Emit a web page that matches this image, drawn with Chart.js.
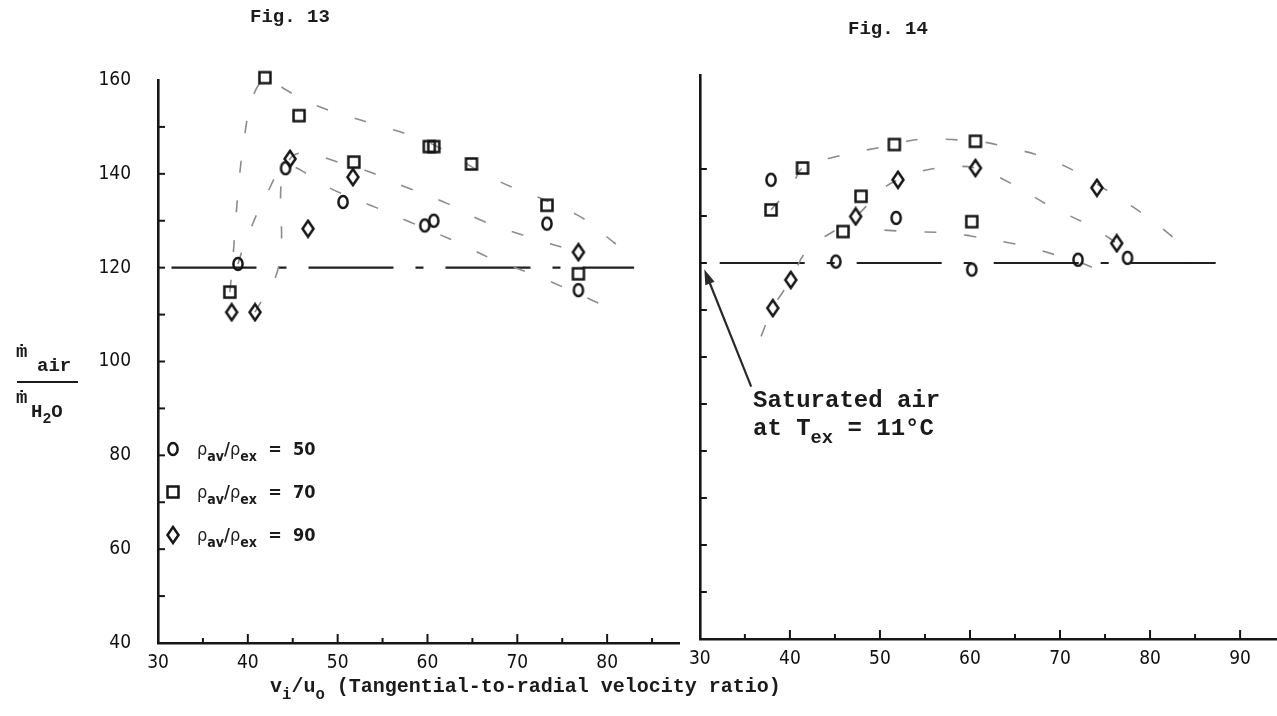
<!DOCTYPE html>
<html>
<head>
<meta charset="utf-8">
<script src="https://cdn.jsdelivr.net/npm/chart.js@4.4.1/dist/chart.umd.min.js"></script>
<style>
  html, body { margin: 0; padding: 0; background: #fff; }
  #page { position: relative; width: 1277px; height: 716px; overflow: hidden; background: #fff; }
  canvas.chart { position: absolute; top: 0; }
  .t { position: absolute; white-space: nowrap; color: #1b1b1b; line-height: 1; }
  .mono { font-family: "Liberation Mono", "DejaVu Sans Mono", monospace; font-weight: bold; }
  .sans { font-family: "DejaVu Sans Condensed", "Liberation Sans", sans-serif; }
  .sub { font-size: 78%; position: relative; top: 0.42em; }
  .leg { position: absolute; display: flex; align-items: center; }
  .leg canvas { margin-right: 15px; }
</style>
</head>
<body>
<div id="page">
  <canvas id="fig13" class="chart" width="700" height="716" style="left:0"></canvas>
  <canvas id="fig14" class="chart" width="597" height="716" style="left:680px"></canvas>

  <div class="t mono" style="left:250px;top:8px;font-size:19px">Fig. 13</div>
  <div class="t mono" style="left:848px;top:20px;font-size:19px">Fig. 14</div>

  <!-- y axis title: m-dot air over m-dot H2O -->
  <div class="t mono" style="left:16px;top:343px;font-size:19px">ṁ</div>
  <div class="t mono" style="left:37px;top:357px;font-size:19px">air</div>
  <div style="position:absolute;left:17px;top:381px;width:61px;height:2px;background:#1b1b1b"></div>
  <div class="t mono" style="left:16px;top:389px;font-size:19px">ṁ</div>
  <div class="t mono" style="left:31px;top:403px;font-size:19px">H<span class="sub">2</span>O</div>

  <div id="legend"></div>

  <div class="t mono" style="left:270px;top:677px;font-size:20px">v<span class="sub">i</span>/u<span class="sub">o</span> (Tangential-to-radial velocity ratio)</div>

  <div class="t mono" style="left:753px;top:389px;font-size:24px">Saturated air</div>
  <div class="t mono" style="left:753px;top:417px;font-size:24px">at T<span class="sub">ex</span> = 11°C</div>
</div>

<script>
// ---- Fig. 13 data (x = vi/uo, y = m_air / m_H2O) ----
const fig13Rho50 = [[38.9, 120.8], [44.2, 141.2], [50.6, 134.0], [59.7, 129.0], [60.7, 130.0], [73.3, 129.4], [76.8, 115.2]];
const fig13Rho70 = [[38.0, 114.8], [41.9, 160.5], [45.7, 152.4], [51.8, 142.5], [60.2, 145.8], [60.7, 145.8], [64.9, 142.1], [73.3, 133.3], [76.8, 118.7]];
const fig13Rho90 = [[38.2, 110.5], [40.8, 110.5], [44.7, 143.2], [46.7, 128.3], [51.7, 139.3], [76.8, 123.3]];
// hand-drawn fit curves of fig. 13
const fig13Fit50 = [[38.9, 120.8], [39.7, 125.4], [42.1, 135.7], [44.2, 141.5], [47, 139.6], [49.3, 136.8], [54.3, 132.8], [58.1, 129.7], [63.2, 125.5], [67.5, 121.6], [72.5, 118], [80, 111.6]];
const fig13Fit70 = [[38.0, 114.8], [39.9, 151.4], [41.9, 160.5], [44, 158.2], [47, 155], [53.3, 151], [60, 146.8], [67.3, 139], [76.6, 131.3], [81, 125]];
const fig13Fit90 = [[40.8, 110.5], [43.4, 120], [44.7, 143.2], [51.7, 141.5], [57.7, 137.1], [62.3, 133.6], [66.1, 130], [70.5, 127], [76.8, 123.3]];
const fig13Sat = [[31.5, 120], [83, 120]];

// ---- Fig. 14 data ----
const fig14Rho50 = [[37.9, 137.7], [45.1, 120.3], [51.8, 129.6], [60.2, 118.6], [72.0, 120.7], [77.5, 121.1]];
const fig14Rho70 = [[37.9, 131.3], [41.4, 140.2], [45.9, 126.7], [47.9, 134.2], [51.6, 145.2], [60.2, 128.8], [60.6, 145.9]];
const fig14Rho90 = [[38.1, 110.4], [40.1, 116.4], [47.3, 129.9], [52.0, 137.7], [60.6, 140.2], [74.1, 136.0], [76.3, 124.2]];
const fig14Fit50 = [[50.5, 127], [53.2, 126.7], [57.7, 126.4], [60.2, 125.7], [64.6, 124.2], [66.3, 123.5], [72.4, 120], [74.1, 118.6]];
const fig14Fit70 = [[37.9, 131.3], [40.2, 136.3], [41.4, 140.2], [45.3, 142.7], [51.6, 145.2], [54.3, 146.3], [60.6, 145.9], [63.6, 144.9], [69.4, 141.6], [76, 134.5], [82.1, 126.2], [84.5, 121]];
const fig14Fit90 = [[36.8, 104.4], [38.1, 110.4], [40.1, 116.4], [42, 122.8], [47.3, 129.9], [50.2, 135.6], [52, 137.7], [54.5, 139.5], [57.7, 140.4], [60.6, 140.2], [64.5, 137], [68.7, 132.3], [73.6, 127.6], [76.3, 124.2], [78, 121.8]];
const fig14Sat = [[32.2, 120], [87.3, 120]];
const arrowFrom = [35.7, 93.7];
const arrowTo = [30.5, 118.6];

// ---- ticks ----
const xLabels13 = [30, 40, 50, 60, 70, 80];
const xLabels14 = [30, 40, 50, 60, 70, 80, 90];
const yLabels = [40, 60, 80, 100, 120, 140, 160];
const xMinor13 = [35, 40, 45, 50, 55, 60, 65, 70, 75, 80, 85];
const xMinor14 = [35, 40, 45, 50, 55, 60, 65, 70, 75, 80, 85, 90];
const yMinor13 = [50, 60, 70, 80, 90, 100, 110, 120, 130, 140, 150];
const yMinor14 = [50, 60, 70, 80, 90, 100, 110, 120, 130, 140];

const legendItems = [['circle', '50'], ['square', '70'], ['diamond', '90']];

const INK = '#161616';

function marker(kind) {
  const c = document.createElement('canvas');
  c.width = 18; c.height = 20;
  const g = c.getContext('2d');
  g.strokeStyle = INK; g.lineWidth = 2.5;
  g.beginPath();
  if (kind === 'circle') g.ellipse(9, 10, 4.6, 6, 0, 0, Math.PI * 2);
  else if (kind === 'square') g.rect(3.5, 4.5, 11, 11);
  else { g.moveTo(9, 2); g.lineTo(14.5, 10); g.lineTo(9, 18); g.lineTo(3.5, 10); g.closePath(); }
  g.stroke();
  return c;
}

const pts = arr => arr.map(p => ({ x: p[0], y: p[1] }));

function markerSet(data, kind) {
  return { type: 'scatter', data: pts(data), pointStyle: marker(kind), pointRadius: 7, showLine: false, clip: false };
}
function fitLine(data) {
  return { type: 'line', data: pts(data), borderColor: '#8c8c8c', borderWidth: 1.6, borderDash: [12, 28],
           pointRadius: 0, tension: 0.4, fill: false };
}
function satLine(data) {
  return { type: 'line', data: pts(data), borderColor: '#202020', borderWidth: 2.2, borderDash: [85, 22, 8, 22],
           pointRadius: 0, tension: 0, fill: false };
}

// ticks drawn on the inside of the axes
const innerTicks = {
  id: 'innerTicks',
  afterDatasetsDraw(chart, args, opts) {
    const { ctx } = chart;
    const x = chart.scales.x, y = chart.scales.y;
    ctx.save();
    ctx.strokeStyle = INK; ctx.lineWidth = 2;
    opts.y.forEach(v => {
      const p = y.getPixelForValue(v);
      ctx.beginPath(); ctx.moveTo(x.left, p); ctx.lineTo(x.left + 7, p); ctx.stroke();
    });
    opts.x.forEach(v => {
      const p = x.getPixelForValue(v);
      const len = v % 10 === 0 ? 9 : 5;
      ctx.beginPath(); ctx.moveTo(p, y.bottom); ctx.lineTo(p, y.bottom - len); ctx.stroke();
    });
    ctx.restore();
  }
};

const arrow = {
  id: 'arrow',
  afterDatasetsDraw(chart, args, opts) {
    if (!opts.from) return;
    const { ctx } = chart;
    const x = chart.scales.x, y = chart.scales.y;
    const x0 = x.getPixelForValue(opts.from[0]), y0 = y.getPixelForValue(opts.from[1]);
    const x1 = x.getPixelForValue(opts.to[0]), y1 = y.getPixelForValue(opts.to[1]);
    const a = Math.atan2(y1 - y0, x1 - x0);
    ctx.save();
    ctx.strokeStyle = '#2a2a2a'; ctx.fillStyle = '#2a2a2a'; ctx.lineWidth = 2.2;
    ctx.beginPath(); ctx.moveTo(x0, y0); ctx.lineTo(x1 - 8 * Math.cos(a), y1 - 8 * Math.sin(a)); ctx.stroke();
    ctx.beginPath();
    ctx.moveTo(x1, y1);
    ctx.lineTo(x1 - 15 * Math.cos(a) + 5 * Math.sin(a), y1 - 15 * Math.sin(a) - 5 * Math.cos(a));
    ctx.lineTo(x1 - 15 * Math.cos(a) - 5 * Math.sin(a), y1 - 15 * Math.sin(a) + 5 * Math.cos(a));
    ctx.closePath(); ctx.fill();
    ctx.restore();
  }
};

const tickFont = { family: '"DejaVu Sans Condensed", "Liberation Sans", sans-serif', size: 19 };

function makeChart(id, cfg) {
  return new Chart(document.getElementById(id), {
    type: 'scatter',
    data: { datasets: cfg.datasets },
    options: {
      responsive: false,
      animation: false,
      events: [],
      layout: { autoPadding: false, padding: cfg.padding },
      plugins: {
        legend: { display: false },
        tooltip: { enabled: false },
        innerTicks: cfg.ticks,
        arrow: cfg.arrow || {}
      },
      scales: {
        x: {
          type: 'linear', min: 30, max: cfg.xMax,
          grid: { display: false, drawTicks: false },
          border: { display: true, color: INK, width: 2.6 },
          afterBuildTicks: s => { s.ticks = cfg.xLabels.map(v => ({ value: v })); },
          afterFit: s => { s.height = cfg.xHeight; },
          ticks: { autoSkip: false, maxRotation: 0, padding: 9, color: '#111', font: tickFont }
        },
        y: {
          type: 'linear', min: 40, max: 160,
          grid: { display: false, drawTicks: false },
          border: { display: true, color: INK, width: 2.6 },
          afterBuildTicks: s => { s.ticks = cfg.yLabels.map(v => ({ value: v })); },
          afterFit: s => { s.width = cfg.yWidth; },
          ticks: { display: cfg.showY, padding: 27, color: '#111', font: tickFont }
        }
      }
    },
    plugins: [innerTicks, arrow]
  });
}

makeChart('fig13', {
  datasets: [
    markerSet(fig13Rho50, 'circle'), markerSet(fig13Rho70, 'square'), markerSet(fig13Rho90, 'diamond'),
    fitLine(fig13Fit50), fitLine(fig13Fit70), fitLine(fig13Fit90), satLine(fig13Sat)
  ],
  padding: { left: 0, right: 21, top: 80, bottom: 0 },
  yWidth: 158, xHeight: 73, xMax: 88,
  xLabels: xLabels13, yLabels: yLabels, showY: true,
  ticks: { x: xMinor13, y: yMinor13 }
});

makeChart('fig14', {
  datasets: [
    markerSet(fig14Rho50, 'circle'), markerSet(fig14Rho70, 'square'), markerSet(fig14Rho90, 'diamond'),
    fitLine(fig14Fit50), fitLine(fig14Fit70), fitLine(fig14Fit90), satLine(fig14Sat)
  ],
  padding: { left: 0, right: 0, top: 75, bottom: 0 },
  yWidth: 17, xHeight: 77, xMax: 94.1,
  xLabels: xLabels14, yLabels: yLabels, showY: false,
  ticks: { x: xMinor14, y: yMinor14 },
  arrow: { from: arrowFrom, to: arrowTo }
});

// legend of fig. 13 (markers + rho ratio text)
const legend = document.getElementById('legend');
legendItems.forEach((item, i) => {
  const row = document.createElement('div');
  row.className = 'leg';
  row.style.left = '164px';
  row.style.top = (438 + i * 43) + 'px';
  row.appendChild(marker(item[0]));
  const txt = document.createElement('span');
  txt.className = 'sans';
  txt.style.fontSize = '18px';
  txt.style.fontWeight = 'bold';
  txt.style.color = '#1b1b1b';
  txt.innerHTML = '<span style="font-weight:normal">ρ</span><span class="sub">av</span>/<span style="font-weight:normal">ρ</span><span class="sub">ex</span>&nbsp;&nbsp;=&nbsp;&nbsp;' + item[1];
  row.appendChild(txt);
  legend.appendChild(row);
});
</script>
</body>
</html>
